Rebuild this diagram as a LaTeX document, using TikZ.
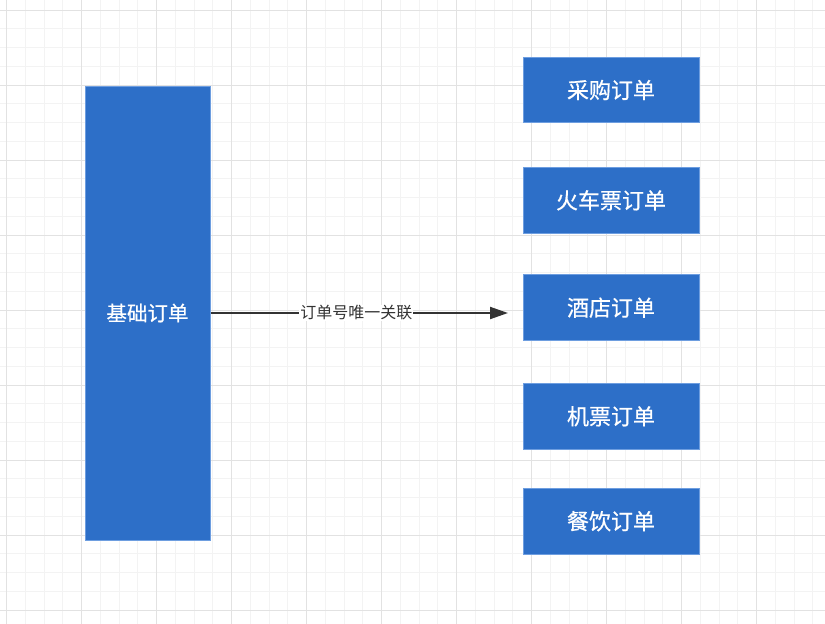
\documentclass[tikz,border=0pt]{standalone}
\usepackage{fontspec}
\newfontfamily\cjk{Noto Sans CJK SC}
\newfontfamily\cjkm[FakeBold=0.6]{Noto Sans CJK SC}
\usetikzlibrary{arrows.meta}
\definecolor{boxblue}{RGB}{45,111,200}
\definecolor{boxedge}{RGB}{110,158,224}
\definecolor{gridminor}{RGB}{243,243,243}
\definecolor{gridmajor}{RGB}{226,226,226}
\definecolor{linkgray}{RGB}{51,51,51}
\tikzset{
  orderbox/.style={draw=boxedge, line width=1pt, fill=boxblue, text=white, inner sep=0pt,
    font=\cjkm\fontsize{22}{26}\selectfont},
  basebox/.style={orderbox, font=\cjkm\fontsize{20.5}{24}\selectfont},
  linklabel/.style={fill=white, inner sep=1pt, text=linkgray, font=\cjk\fontsize{16}{19}\selectfont},
  link/.style={draw=linkgray, line width=2pt, -{Triangle[length=18pt,width=12pt]}}
}
\begin{document}
\begin{tikzpicture}[x=1pt,y=-1pt]
\useasboundingbox (0,0) rectangle (825,624);
\fill[white] (0,0) rectangle (825,624);
% grid
\foreach \k in {0,...,44} {
  \pgfmathsetmacro{\gx}{6.7+18.75*\k}
  \draw[gridminor, line width=1pt] (\gx,0) -- (\gx,624);
}
\foreach \k in {0,...,33} {
  \pgfmathsetmacro{\gy}{10+18.75*\k}
  \draw[gridminor, line width=1pt] (0,\gy) -- (825,\gy);
}
\foreach \k in {0,...,11} {
  \pgfmathsetmacro{\gx}{6.7+75*\k}
  \draw[gridmajor, line width=1pt] (\gx,0) -- (\gx,624);
}
\foreach \k in {0,...,8} {
  \pgfmathsetmacro{\gy}{10+75*\k}
  \draw[gridmajor, line width=1pt] (0,\gy) -- (825,\gy);
}
% boxes
\node[basebox, minimum width=125pt, minimum height=454pt] (base) at (147.5,313) {基础订单};
\node[orderbox, minimum width=176pt, minimum height=65.5pt] (caigou) at (611,90) {\raisebox{-1.5pt}{采购订单}};
\node[orderbox, minimum width=176pt, minimum height=66pt] (huoche) at (611,200.3) {\raisebox{-1.5pt}{火车票订单}};
\node[orderbox, minimum width=176pt, minimum height=66.5pt] (jiudian) at (611,307.7) {\raisebox{-1.5pt}{酒店订单}};
\node[orderbox, minimum width=176pt, minimum height=66pt] (jipiao) at (611,416.3) {\raisebox{-1.5pt}{机票订单}};
\node[orderbox, minimum width=176pt, minimum height=65.7pt] (canyin) at (611,521.2) {\raisebox{-1.5pt}{餐饮订单}};
% connector
\coordinate (tip) at (508,313);
\draw[link] (base.east |- 0,313) -- (tip) node[linklabel, pos=0.49] {订单号唯一关联};
\end{tikzpicture}
\end{document}
